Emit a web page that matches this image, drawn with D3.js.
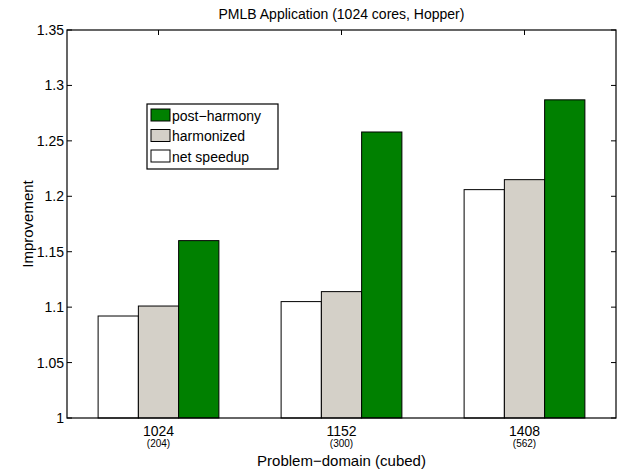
<!DOCTYPE html>
<html>
<head>
<meta charset="utf-8">
<script src="https://cdn.jsdelivr.net/npm/d3@7"></script>
<style>
  html, body { margin: 0; padding: 0; background: #fff; }
  svg { display: block; font-family: "Liberation Sans", Arial, Helvetica, sans-serif; }
</style>
</head>
<body>
<svg id="chart" width="620" height="473"></svg>
<script>
// Problem sizes (cubed) with their secondary labels
const categories = ["1024", "1152", "1408"];
const subLabels = ["(204)", "(300)", "(562)"];

// Improvement per series, one value per problem size
const netSpeedup = [1.092, 1.105, 1.206];
const harmonized = [1.101, 1.114, 1.215];
const postHarmony = [1.160, 1.258, 1.287];

const yTicks = [1, 1.05, 1.1, 1.15, 1.2, 1.25, 1.3, 1.35];

const series = [
  { name: "net speedup", values: netSpeedup, color: "#ffffff" },
  { name: "harmonized", values: harmonized, color: "#d4d0c8" },
  { name: "post\u2212harmony", values: postHarmony, color: "#008000" }
];

const svg = d3.select("#chart");
const plotL = 67, plotR = 616, plotT = 30, plotB = 418;

// Group positions: index 1..3 over a [0.5, 3.5] range
const x = d3.scaleLinear().domain([0.5, 3.5]).range([plotL, plotR]);
const y = d3.scaleLinear().domain([1, 1.35]).range([plotB, plotT]);
const barW = 0.22;

const g = svg.append("g");

// Bars
series.forEach((s, si) => {
  g.selectAll(null)
    .data(s.values)
    .enter()
    .append("rect")
    .attr("x", (d, i) => x(i + 1 + (si - 1.5) * barW))
    .attr("width", x(barW) - x(0))
    .attr("y", d => y(d))
    .attr("height", d => y(1) - y(d))
    .attr("fill", s.color)
    .attr("stroke", "#000")
    .attr("stroke-width", 1);
});

// Axes box
g.append("rect")
  .attr("x", plotL).attr("y", plotT)
  .attr("width", plotR - plotL).attr("height", plotB - plotT)
  .attr("fill", "none").attr("stroke", "#000").attr("stroke-width", 1.2);

const tickLen = 5;
// Y ticks (left and right, inward)
yTicks.forEach(t => {
  g.append("line").attr("x1", plotL).attr("x2", plotL + tickLen)
    .attr("y1", y(t)).attr("y2", y(t)).attr("stroke", "#000");
  g.append("line").attr("x1", plotR).attr("x2", plotR - tickLen)
    .attr("y1", y(t)).attr("y2", y(t)).attr("stroke", "#000");
  g.append("text")
    .attr("x", plotL - 3).attr("y", y(t) + 5)
    .attr("text-anchor", "end")
    .attr("font-size", 14)
    .text(d3.format("")(t));
});

// X ticks (top, inward) and labels
categories.forEach((c, i) => {
  g.append("line").attr("x1", x(i + 1)).attr("x2", x(i + 1))
    .attr("y1", plotT).attr("y2", plotT + tickLen).attr("stroke", "#000");
  g.append("text")
    .attr("x", x(i + 1)).attr("y", plotB + 18)
    .attr("text-anchor", "middle").attr("font-size", 14)
    .text(c);
  g.append("text")
    .attr("x", x(i + 1)).attr("y", plotB + 29)
    .attr("text-anchor", "middle").attr("font-size", 10)
    .text(subLabels[i]);
});

// Title and axis labels
svg.append("text")
  .attr("x", (plotL + plotR) / 2).attr("y", 19)
  .attr("text-anchor", "middle").attr("font-size", 14)
  .text("PMLB Application (1024 cores, Hopper)");

svg.append("text")
  .attr("x", (plotL + plotR) / 2).attr("y", 466)
  .attr("text-anchor", "middle").attr("font-size", 15)
  .text("Problem\u2212domain (cubed)");

svg.append("text")
  .attr("transform", `translate(33,${(plotT + plotB) / 2}) rotate(-90)`)
  .attr("text-anchor", "middle").attr("font-size", 15)
  .text("Improvement");

// Legend (listed top to bottom in reverse series order)
const legend = svg.append("g").attr("transform", "translate(147,104)");
legend.append("rect")
  .attr("width", 131).attr("height", 65)
  .attr("fill", "#fff").attr("stroke", "#000").attr("stroke-width", 1.2);
series.slice().reverse().forEach((s, i) => {
  const row = legend.append("g").attr("transform", `translate(4,${5 + i * 20.5})`);
  row.append("rect")
    .attr("width", 19).attr("height", 12)
    .attr("fill", s.color).attr("stroke", "#000").attr("stroke-width", 1);
  row.append("text")
    .attr("x", 21).attr("y", 11.5)
    .attr("font-size", 14)
    .text(s.name);
});
</script>
</body>
</html>
